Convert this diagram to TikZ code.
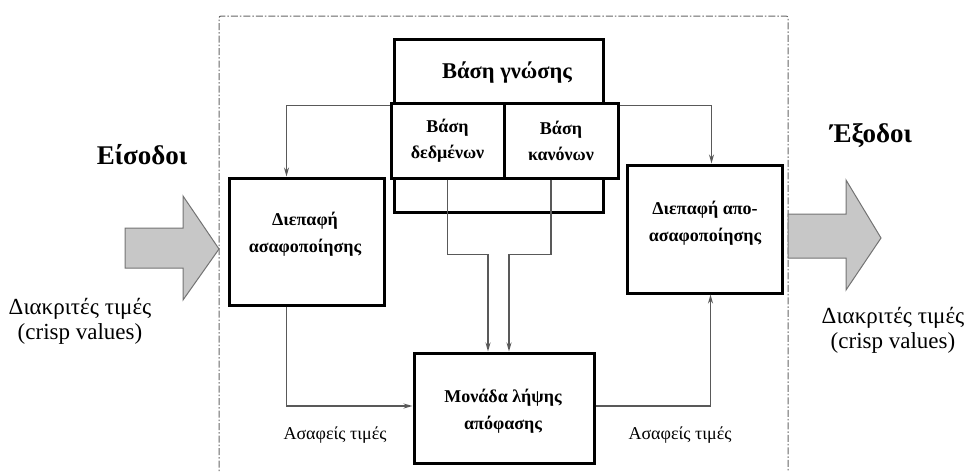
\documentclass[tikz,border=0pt]{standalone}
\usepackage{fontspec}
\setmainfont{Liberation Serif}
\usetikzlibrary{arrows.meta,calc}
\begin{document}
\begin{tikzpicture}[x=1pt,y=-1pt,
  blk/.style={draw=black,line width=3pt,fill=white,inner sep=0pt},
  boxtext/.style={inner sep=0pt,align=center,font=\bfseries\fontsize{18}{27}\selectfont},
  conn/.style={draw=black!65,line width=1.4pt,-{Stealth[length=9pt,width=5pt]}},
  wire/.style={draw=black!65,line width=1.4pt},
  bigarrow/.style={fill=black!22,draw=black!55,line width=1pt,line join=miter},
  frame/.style={draw=black!60,line width=1pt,dash pattern=on 7pt off 2pt on 1.5pt off 2pt},
  lbl/.style={inner sep=0pt,align=center,font=\fontsize{18}{22}\selectfont},
  side/.style={inner sep=0pt,align=center,font=\fontsize{23}{25}\selectfont},
  title/.style={inner sep=0pt,font=\bfseries\fontsize{27}{30}\selectfont}]
\useasboundingbox (0,0) rectangle (965,471);

% dash-dotted system boundary (open at the bottom)
\draw[frame,rounded corners=2pt] (219,480) -- (219,16) -- (788,16) -- (788,480);

% knowledge base with its two parts
\node[blk,minimum width=209pt,minimum height=173pt] (kb) at (498.5,125.5) {};
\node[boxtext,font=\bfseries\fontsize{22.5}{25}\selectfont] (kbt) at (507,73) {Βάση γνώσης};
\node[blk,minimum width=113pt,minimum height=75pt] (db) at (447.5,140.5) {};
\node[blk,minimum width=114pt,minimum height=75pt] (rb) at (561,140.5) {};
\node[boxtext,font=\bfseries\fontsize{18}{26}\selectfont] (dbt) at (db.center) {Βάση\\δεδμένων};
\node[boxtext,font=\bfseries\fontsize{18}{26}\selectfont] (rbt) at (rb.center) {Βάση\\κανόνων};

% fuzzification, defuzzification and decision units
\node[blk,minimum width=155pt,minimum height=127pt] (fuzz) at (306.5,241.5) {};
\node[boxtext] (fuzzt) at (305,234) {Διεπαφή\\ασαφοποίησης};
\node[blk,minimum width=155pt,minimum height=128pt] (defuzz) at (704.5,229) {};
\node[boxtext] (defuzzt) at (705,223.5) {Διεπαφή απο-\\ασαφοποίησης};
\node[blk,minimum width=180pt,minimum height=110pt] (dec) at (504,408) {};
\node[boxtext] (dect) at (503,411) {Μονάδα λήψης\\απόφασης};

% connectors from the knowledge base
\coordinate (dbL) at ($(db.north west)+(0,4)$);
\coordinate (rbR) at ($(rb.north east)+(0,4)$);
\draw[conn] (dbL) -| ($(fuzz.north west)+(59,0)$);
\draw[conn] (rbR) -| ($(defuzz.north west)+(86,0)$);
\draw[conn] (db.south) -- ++(0,75) -| ($(dec.north)+(-16,0)$);
\draw[conn] ($(rb.south)+(-10,0)$) -- ++(0,75) -| ($(dec.north)+(5,0)$);

% fuzzy values between the units
\draw[conn] ($(fuzz.south west)+(59,0)$) |- ($(dec.west)+(0,-2)$);
\draw[conn] ($(dec.east)+(0,-2)$) -| ($(defuzz.south west)+(85,0)$);
\node[lbl] (fzl) at (335,435) {Ασαφείς τιμές};
\node[lbl] (fzr) at (680,435) {Ασαφείς τιμές};

% crisp input and output arrows
\draw[bigarrow] (125,228) -- (183,228) -- (183,196) -- (219,249) -- (183,300) -- (183,268) -- (125,268) -- cycle;
\draw[bigarrow] (788,214) -- (846,214) -- (846,180) -- (881,238) -- (846,290) -- (846,258) -- (788,258) -- cycle;

\node[title] (in) at (142,155) {Είσοδοι};
\node[title] (out) at (871,136) {Έξοδοι};
\node[side] (inv) at (80,321) {Διακριτές τιμές\\(crisp values)};
\node[side] (outv) at (893,330) {Διακριτές τιμές\\(crisp values)};
\end{tikzpicture}
\end{document}
